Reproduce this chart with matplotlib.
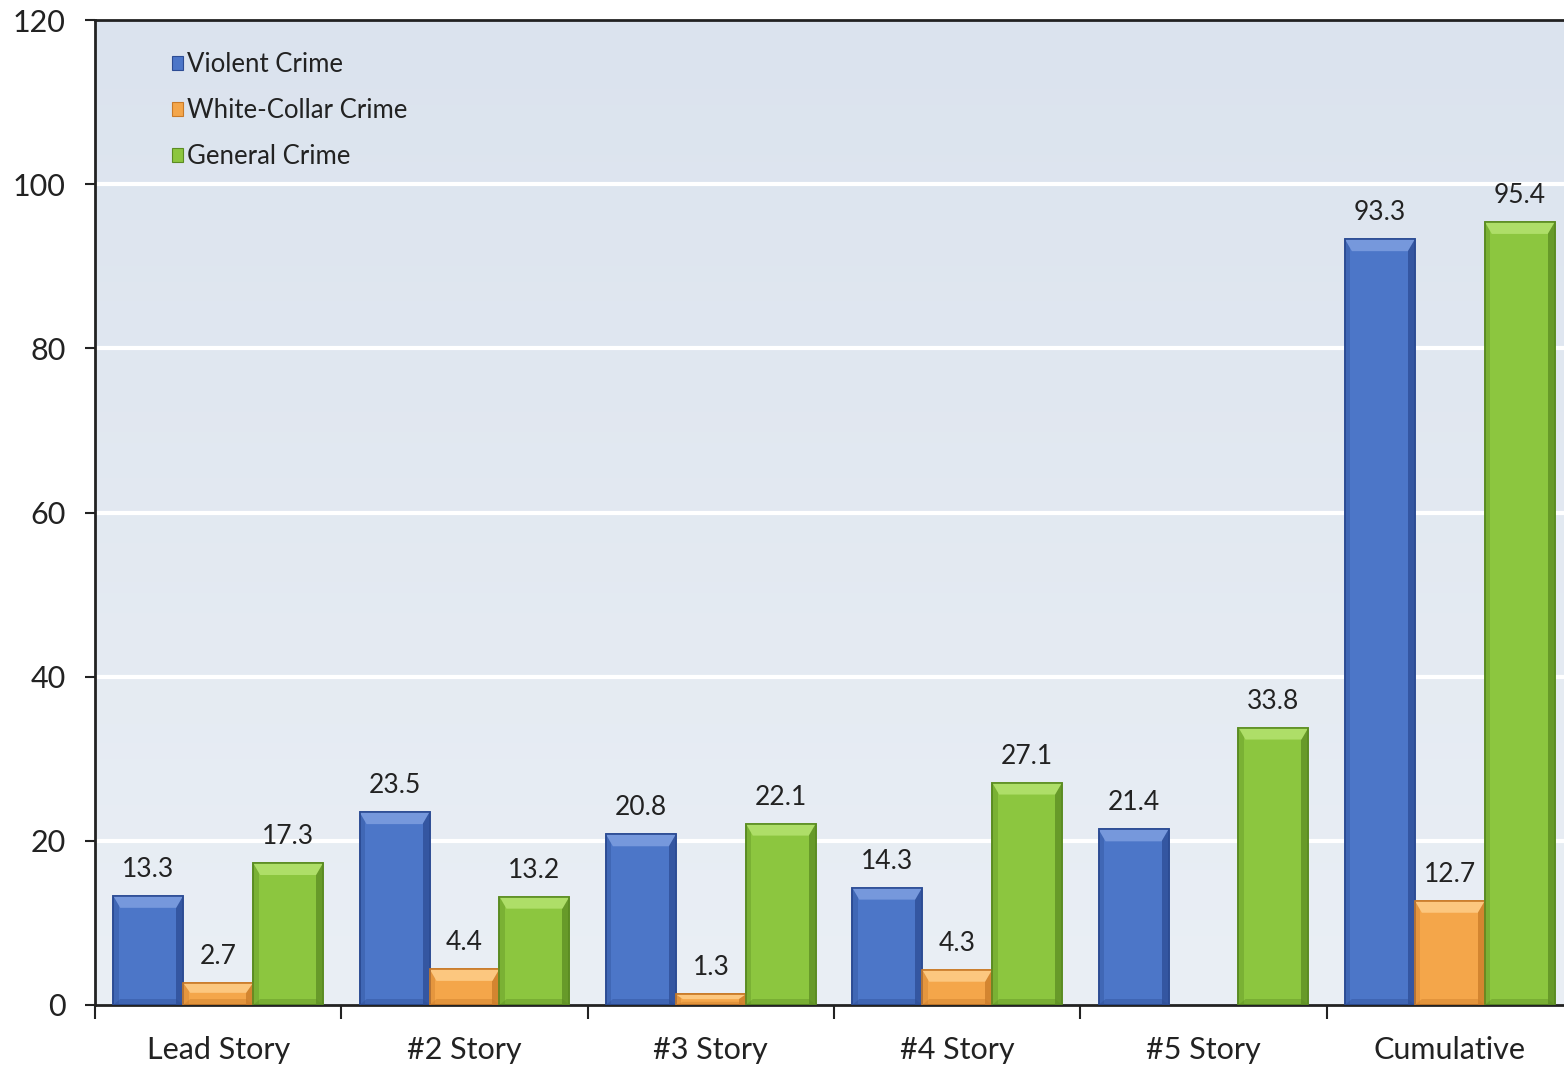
import numpy as np
import matplotlib
matplotlib.use("Agg")
import matplotlib.pyplot as plt
from matplotlib.patches import Patch, Polygon, Rectangle
from matplotlib.colors import LinearSegmentedColormap

plt.rcParams['font.family'] = ['Lato', 'DejaVu Sans']

categories = ["Lead Story", "#2 Story", "#3 Story", "#4 Story", "#5 Story", "Cumulative"]
series_names = ["Violent Crime", "White-Collar Crime", "General Crime"]
violent = [13.3, 23.5, 20.8, 14.3, 21.4, 93.3]
white_collar = [2.7, 4.4, 1.3, 4.3, np.nan, 12.7]
general = [17.3, 13.2, 22.1, 27.1, 33.8, 95.4]
y_ticks = [0, 20, 40, 60, 80, 100, 120]

# base, light (top bevel), dark (edges)
palettes = [
    ("#4c76c8", "#7698dc", "#2c4c94"),
    ("#f4a64a", "#fcc77f", "#c97a28"),
    ("#8cc63f", "#aede68", "#5b8c22"),
]

W, H = 1564, 1075
fig = plt.figure(figsize=(W / 100, H / 100), dpi=100)
fig.patch.set_facecolor("white")
ax = fig.add_axes([95 / W, (H - 1005) / H, (1573 - 95) / W, (1005 - 20) / H])

n = len(categories)
ax.set_xlim(-0.5, n - 0.5)
ax.set_ylim(0, 120)

# soft vertical gradient for the plotting area
grad = LinearSegmentedColormap.from_list("bg", ["#eaeff5", "#dbe3ee"])
ax.imshow(np.linspace(0, 1, 256).reshape(-1, 1), cmap=grad, aspect="auto",
          extent=(-0.5, n - 0.5, 0, 120), origin="lower", zorder=0)

for y in y_ticks[1:-1]:
    ax.axhline(y, color="white", lw=3, zorder=1)

x = np.arange(n)
bw = 0.284
offsets = [-bw, 0, bw]

# pixel -> data conversions for bevel sizes
px_x = n / 1478.0
px_y = 120 / 985.0

for vals, off, (base, light, dark) in zip([violent, white_collar, general], offsets, palettes):
    bars = ax.bar(x + off, vals, width=bw, color=base, edgecolor=dark, linewidth=1.2, zorder=2)
    for rect, v in zip(bars.patches, vals):
        if np.isnan(v):
            continue
        x0 = rect.get_x()
        x1 = x0 + rect.get_width()
        top = rect.get_height()
        ex = 7 * px_x
        ey = min(12 * px_y, top * 0.45)
        # dark right edge
        ax.add_patch(Rectangle((x1 - ex, 0), ex, top, facecolor=dark, edgecolor="none",
                               alpha=0.75, zorder=3))
        # slightly darker left edge
        ax.add_patch(Rectangle((x0, 0), ex * 0.8, top, facecolor=dark, edgecolor="none",
                               alpha=0.35, zorder=3))
        # lighter top bevel
        ax.add_patch(Polygon([(x0, top), (x1, top), (x1 - ex, top - ey), (x0 + ex, top - ey)],
                             closed=True, facecolor=light, edgecolor="none", zorder=4))
        # darker bottom strip
        eb = min(6 * px_y, top * 0.3)
        ax.add_patch(Polygon([(x0, 0), (x1, 0), (x1 - ex, eb), (x0 + ex, eb)],
                             closed=True, facecolor=dark, edgecolor="none", alpha=0.4, zorder=3))
        ax.add_patch(Rectangle((x0, 0), x1 - x0, top, facecolor="none", edgecolor=dark,
                               linewidth=1.2, zorder=5))
        ax.text(rect.get_x() + rect.get_width() / 2, top + 14 * px_y, f"{v:.1f}",
                ha="center", va="bottom", fontsize=19, color="#222222", zorder=6)

# axes styling
ax.set_yticks(y_ticks)
ax.set_yticklabels([str(t) for t in y_ticks], fontsize=22, color="#222222")
ax.set_xticks(x)
ax.set_xticklabels(categories, fontsize=22, color="#222222")
ax.set_xticks(np.arange(n + 1) - 0.5, minor=True)
ax.tick_params(axis="x", which="major", length=0, pad=22)
ax.tick_params(axis="x", which="minor", length=10, width=1.5, direction="out", color="#222222")
ax.tick_params(axis="y", length=7, width=1.5, direction="out", color="#222222", pad=14)
for side in ["left", "top", "bottom"]:
    ax.spines[side].set_color("#222222")
    ax.spines[side].set_linewidth(2)
ax.spines["right"].set_visible(False)

handles = [Patch(facecolor=p[0], edgecolor=p[2], linewidth=0.8) for p in palettes]
leg = ax.legend(handles, series_names, loc="upper left",
                bbox_to_anchor=(0.045, 0.978), frameon=False, fontsize=18.5,
                handlelength=0.45, handleheight=0.45, handletextpad=0.15,
                labelspacing=0.82, borderaxespad=0)
for t in leg.get_texts():
    t.set_color("#222222")

fig.savefig("out.png", dpi=100)
